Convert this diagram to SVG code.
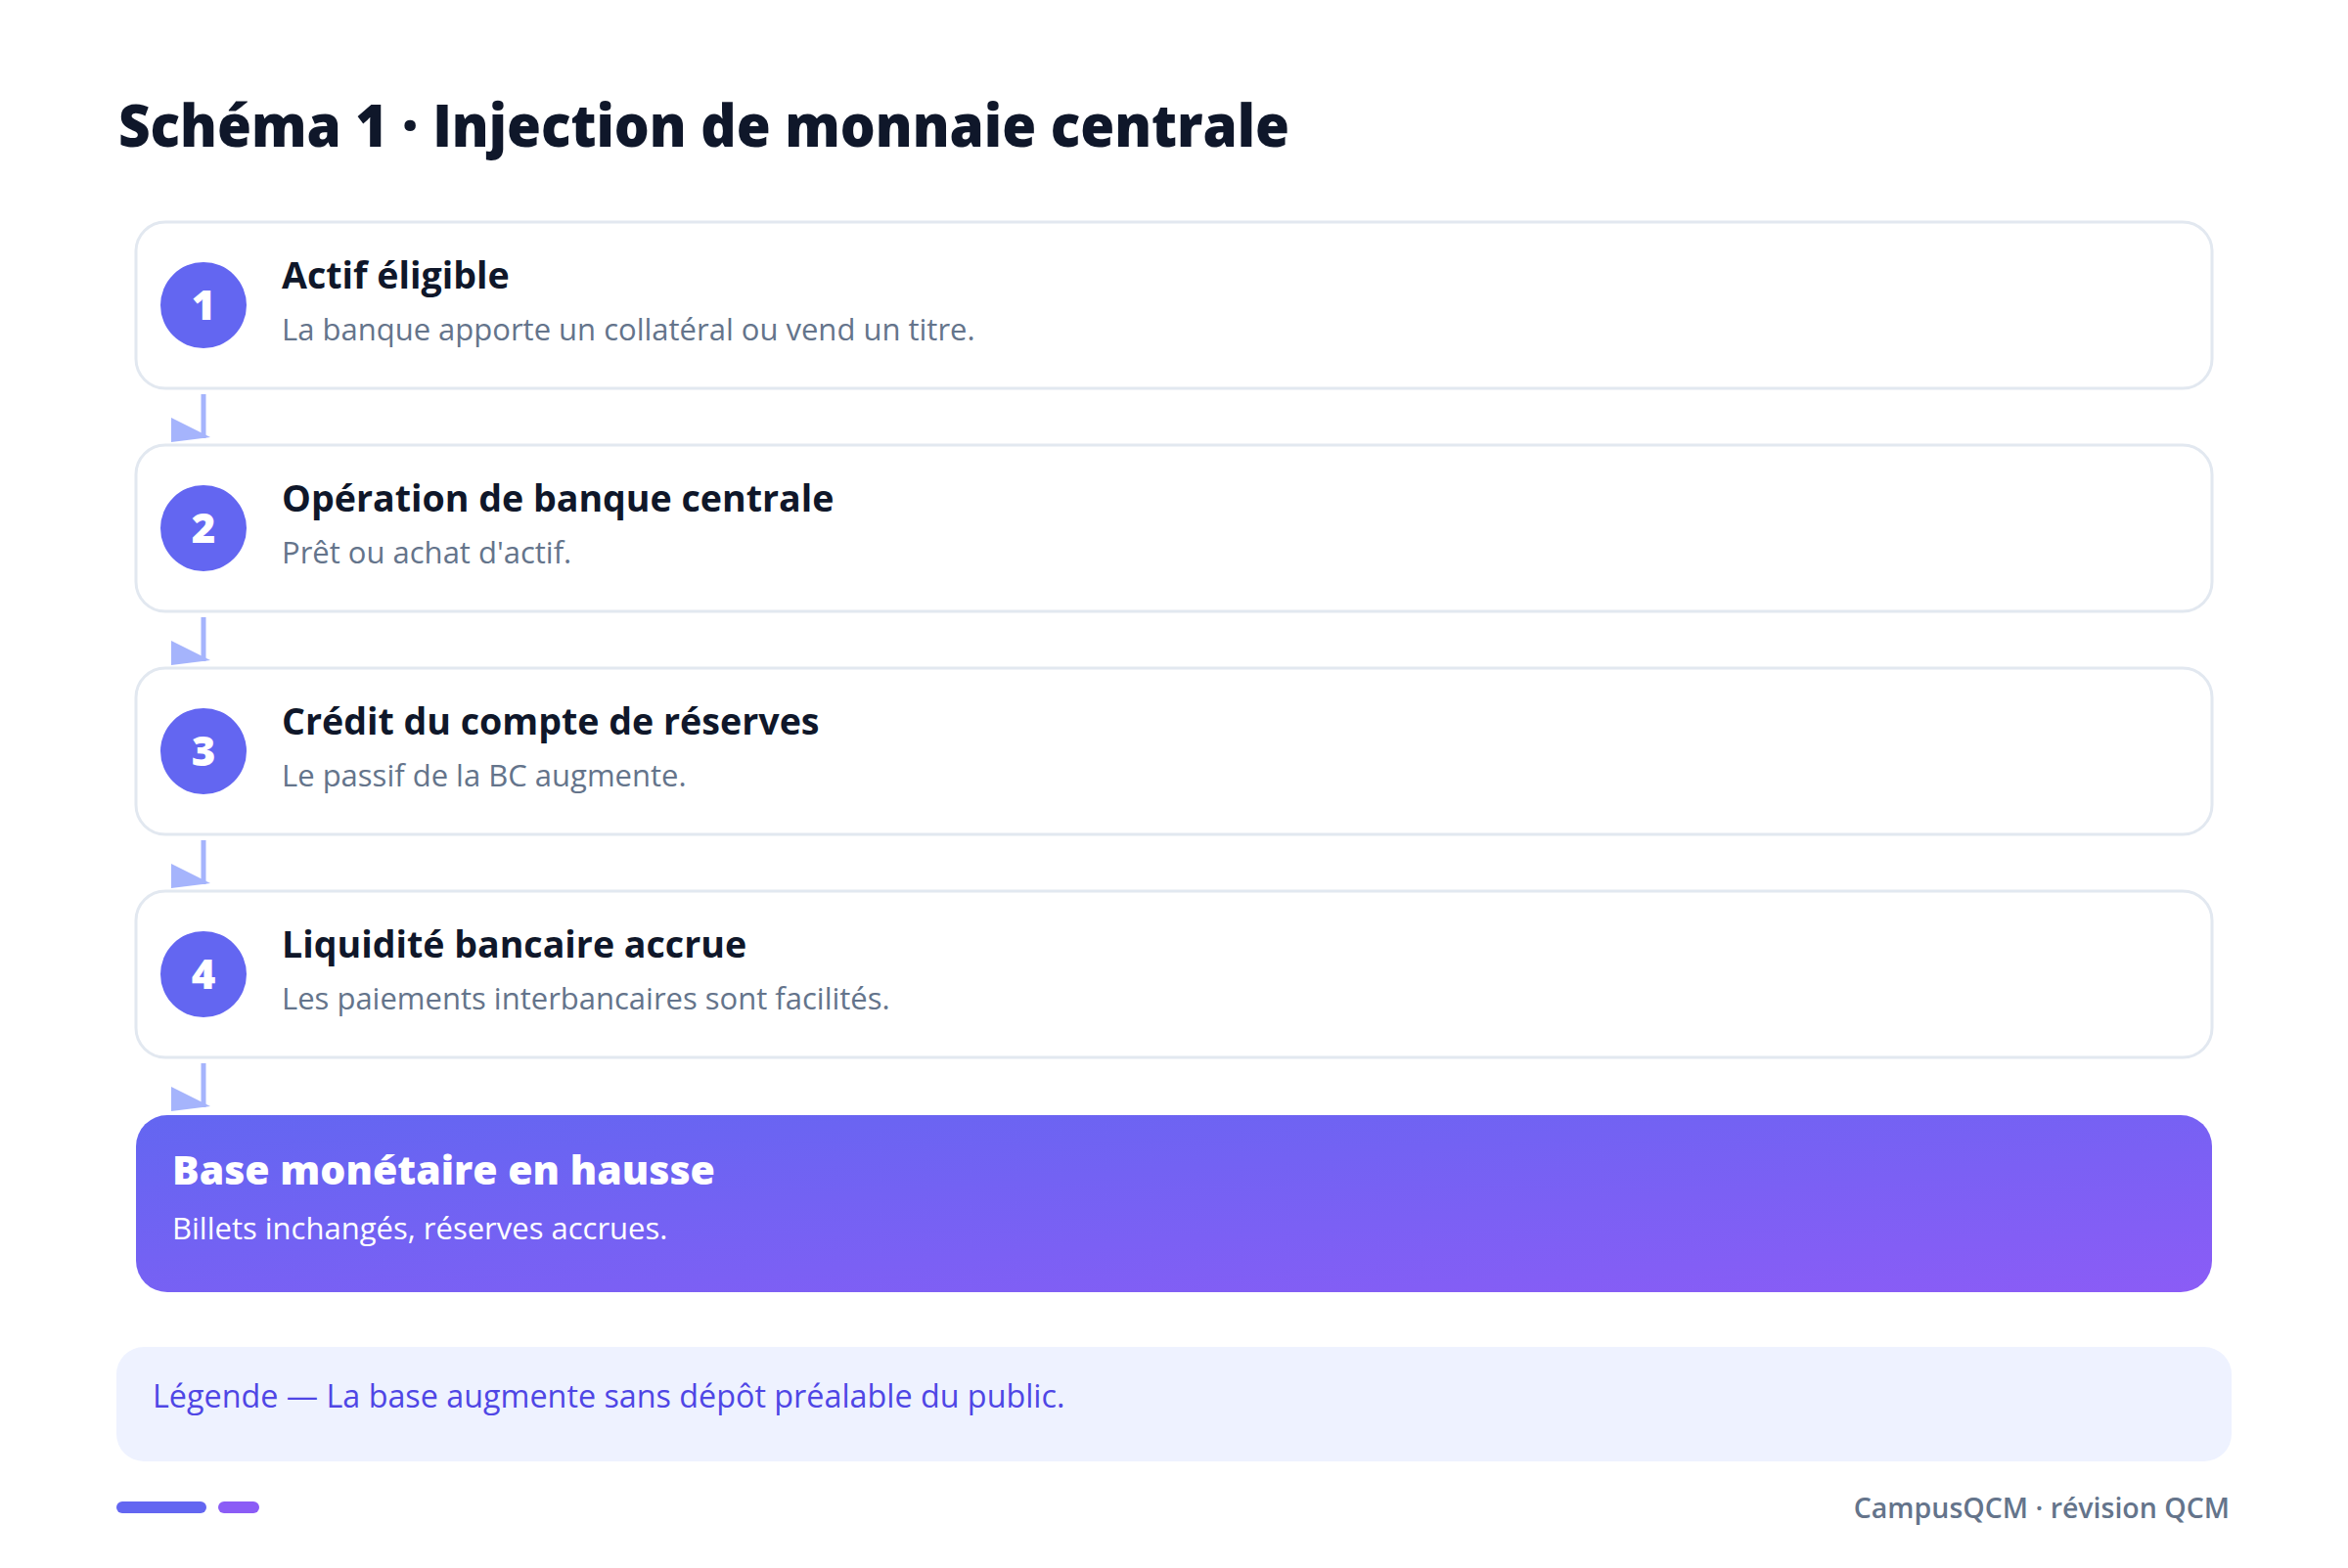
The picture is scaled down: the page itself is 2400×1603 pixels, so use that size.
<svg xmlns="http://www.w3.org/2000/svg" width="2400" height="1603" viewBox="0 0 2400 1603">
<defs>
<linearGradient id="g1" x1="0" y1="0" x2="1" y2="1">
<stop offset="0" stop-color="#6366f1"/>
<stop offset="1" stop-color="#8b5cf6"/>
</linearGradient>
<marker id="ah" markerUnits="userSpaceOnUse" viewBox="-40 -25 50 35" refX="0" refY="0" markerWidth="50" markerHeight="35" orient="0" overflow="visible">
<path d="M-33,-21 L7,-1 L-33,4 Z" fill="#a5b4fc"/>
</marker>
<style>
text{font-family:"Open Sans","Noto Sans","Liberation Sans",sans-serif}
.title{font-size:60px;font-weight:800;fill:#0f172a}
.box{fill:#ffffff;stroke:#e2e8f0;stroke-width:3}
.num{fill:#6366f1}
.numt{font-size:42px;font-weight:800;fill:#ffffff;text-anchor:middle}
.h{font-size:37.6px;font-weight:700;fill:#0f172a}
.s{font-size:31px;font-weight:400;fill:#64748b}
.conn{stroke:#a5b4fc;stroke-width:5;fill:none}
.hw{font-size:41px;font-weight:800;fill:#ffffff}
.sw{font-size:31px;font-weight:400;fill:#ffffff}
.leg{font-size:32.3px;font-weight:400;fill:#4f46e5}
.foot{font-size:28.5px;font-weight:600;fill:#64748b;text-anchor:end}
</style>
</defs>
<rect width="2400" height="1603" fill="#ffffff"/>
<text class="title" x="121" y="150" textLength="1197" lengthAdjust="spacingAndGlyphs">Schéma 1 · Injection de monnaie centrale</text>

<g id="connectors">
<line class="conn" x1="208" y1="403" x2="208" y2="448" marker-end="url(#ah)"/>
<line class="conn" x1="208" y1="631" x2="208" y2="676" marker-end="url(#ah)"/>
<line class="conn" x1="208" y1="859" x2="208" y2="904" marker-end="url(#ah)"/>
<line class="conn" x1="208" y1="1087" x2="208" y2="1132" marker-end="url(#ah)"/>
</g>

<g id="step1">
<rect class="box" x="139" y="227" width="2122" height="170" rx="30"/>
<circle class="num" cx="208" cy="312" r="44"/>
<text class="numt" x="208" y="327">1</text>
<text class="h" x="288" y="295">Actif éligible</text>
<text class="s" x="288" y="348">La banque apporte un collatéral ou vend un titre.</text>
</g>
<g id="step2">
<rect class="box" x="139" y="455" width="2122" height="170" rx="30"/>
<circle class="num" cx="208" cy="540" r="44"/>
<text class="numt" x="208" y="555">2</text>
<text class="h" x="288" y="523">Opération de banque centrale</text>
<text class="s" x="288" y="576">Prêt ou achat d'actif.</text>
</g>
<g id="step3">
<rect class="box" x="139" y="683" width="2122" height="170" rx="30"/>
<circle class="num" cx="208" cy="768" r="44"/>
<text class="numt" x="208" y="783">3</text>
<text class="h" x="288" y="751">Crédit du compte de réserves</text>
<text class="s" x="288" y="804">Le passif de la BC augmente.</text>
</g>
<g id="step4">
<rect class="box" x="139" y="911" width="2122" height="170" rx="30"/>
<circle class="num" cx="208" cy="996" r="44"/>
<text class="numt" x="208" y="1011">4</text>
<text class="h" x="288" y="979">Liquidité bancaire accrue</text>
<text class="s" x="288" y="1032">Les paiements interbancaires sont facilités.</text>
</g>
<g id="result">
<rect x="139" y="1140" width="2122" height="181" rx="32" fill="url(#g1)"/>
<text class="hw" x="176" y="1211">Base monétaire en hausse</text>
<text class="sw" x="176" y="1267">Billets inchangés, réserves accrues.</text>
</g>
<g id="legend">
<rect x="119" y="1377" width="2162" height="117" rx="28" fill="#eef2ff"/>
<text class="leg" x="156" y="1439">Légende — La base augmente sans dépôt préalable du public.</text>
</g>
<g id="footer">
<rect x="119" y="1535" width="92" height="12" rx="6" fill="#6366f1"/>
<rect x="223" y="1535" width="42" height="12" rx="6" fill="#8b5cf6"/>
<text class="foot" x="2279" y="1552">CampusQCM · révision QCM</text>
</g>
</svg>
